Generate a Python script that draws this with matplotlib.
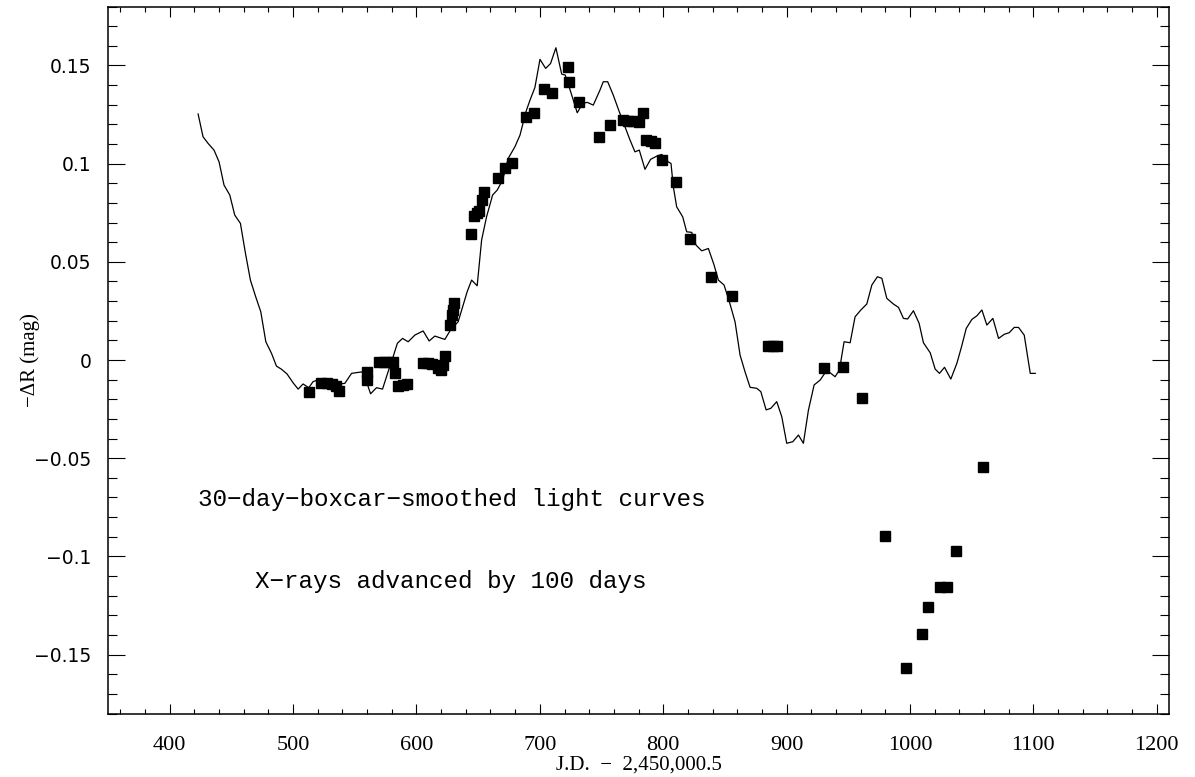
import matplotlib
matplotlib.use("Agg")
import matplotlib.pyplot as plt
from matplotlib.ticker import MultipleLocator, FuncFormatter

# optical light curve, 30-day boxcar smoothed
jd_opt = [423.0, 427.0, 431.1, 435.9, 440.0, 444.0, 448.7, 452.7, 457.3, 461.4,
          465.4, 469.7, 473.8, 477.9, 482.5, 486.5, 490.6, 495.1, 500.0, 504.1,
          508.1, 512.7, 516.2, 521.7, 527.3, 532.2, 537.1, 541.9, 547.4, 552.7,
          556.8, 562.8, 567.6, 572.5, 577.9, 581.1, 584.5, 588.7, 593.3, 598.7,
          605.4, 610.3, 614.9, 623.0, 627.6, 633.8, 637.4, 641.1, 644.7, 649.2,
          652.8, 656.8, 661.7, 665.4, 669.8, 674.4, 679.8, 683.9, 688.7, 692.0,
          696.0, 700.1, 704.7, 708.7, 713.0, 717.7, 720.6, 725.0, 730.3, 734.7,
          738.4, 743.3, 748.7, 751.4, 755.0, 759.5, 764.4, 769.0, 773.1, 777.1,
          780.6, 785.2, 789.8, 794.7, 798.8, 804.1, 806.3, 808.2, 810.9, 815.8,
          819.0, 823.1, 826.6, 831.2, 836.6, 841.2, 844.7, 849.3, 853.6, 858.2,
          862.3, 866.3, 870.4, 875.8, 879.1, 883.4, 887.2, 892.0, 896.1, 900.1,
          905.0, 909.6, 913.6, 917.7, 922.3, 927.2, 931.2, 935.3, 939.3, 942.8,
          946.6, 951.5, 955.5, 960.2, 965.0, 969.1, 973.6, 977.2, 981.2, 986.6,
          990.7, 994.7, 998.1, 1002.8, 1007.4, 1010.9, 1016.4, 1020.4, 1023.9, 1028.0,
          1033.1, 1038.0, 1041.8, 1045.6, 1050.2, 1054.2, 1058.3, 1062.3, 1067.2, 1071.8,
          1076.4, 1080.4, 1084.5, 1088.0, 1092.6, 1097.5, 1101.5]
dr_opt = [0.1253, 0.1137, 0.1103, 0.1069, 0.1009, 0.0891, 0.0840, 0.0738, 0.0696, 0.0543,
          0.0407, 0.0322, 0.0246, 0.0093, 0.0034, -0.0031, -0.0047, -0.0071, -0.0116, -0.0148,
          -0.0122, -0.0141, -0.0110, -0.0098, -0.0100, -0.0117, -0.0122, -0.0119, -0.0068, -0.0063,
          -0.0060, -0.0172, -0.0141, -0.0148, -0.0042, 0.0017, 0.0085, 0.0110, 0.0093, 0.0127,
          0.0148, 0.0097, 0.0122, 0.0105, 0.0153, 0.0195, 0.0271, 0.0348, 0.0407, 0.0378,
          0.0611, 0.0729, 0.0840, 0.0865, 0.0916, 0.1027, 0.1086, 0.1145, 0.1264, 0.1323,
          0.1388, 0.1531, 0.1485, 0.1510, 0.1590, 0.1456, 0.1451, 0.1366, 0.1259, 0.1307,
          0.1312, 0.1298, 0.1374, 0.1417, 0.1417, 0.1349, 0.1264, 0.1188, 0.1120, 0.1060,
          0.1069, 0.0971, 0.1022, 0.1038, 0.1047, 0.1009, 0.1001, 0.0882, 0.0780, 0.0729,
          0.0653, 0.0650, 0.0585, 0.0556, 0.0568, 0.0484, 0.0407, 0.0382, 0.0297, 0.0195,
          0.0025, -0.0060, -0.0139, -0.0144, -0.0161, -0.0254, -0.0246, -0.0212, -0.0289, -0.0424,
          -0.0416, -0.0382, -0.0424, -0.0255, -0.0127, -0.0102, -0.0065, -0.0065, -0.0085, -0.0051,
          0.0093, 0.0088, 0.0220, 0.0255, 0.0285, 0.0382, 0.0424, 0.0416, 0.0314, 0.0285,
          0.0268, 0.0212, 0.0209, 0.0251, 0.0187, 0.0088, 0.0037, -0.0046, -0.0068, -0.0037,
          -0.0097, -0.0017, 0.0068, 0.0161, 0.0207, 0.0225, 0.0255, 0.0178, 0.0212, 0.0110,
          0.0131, 0.0139, 0.0166, 0.0166, 0.0127, -0.0068, -0.0068]

# x-ray curve, advanced by 100 days
jd_x = [513.0, 523.0, 527.3, 531.4, 534.6, 537.3, 559.5, 560.3, 569.5, 573.6,
        577.6, 581.1, 582.5, 584.9, 589.0, 592.2, 605.4, 609.2, 612.5, 617.6,
        619.8, 621.6, 623.0, 627.1, 628.5, 629.5, 630.3, 643.9, 646.5, 649.0,
        650.8, 652.8, 654.9, 666.3, 671.7, 677.1, 688.7, 695.4, 703.6, 709.6,
        723.0, 723.8, 731.9, 747.9, 756.8, 767.1, 771.4, 775.5, 780.6, 783.4,
        786.0, 790.1, 793.3, 799.3, 810.1, 821.7, 838.5, 856.0, 885.2, 889.0,
        892.5, 930.6, 945.6, 961.5, 979.9, 996.6, 1010.1, 1015.0, 1024.5, 1029.9,
        1037.2, 1059.1]
dr_x = [-0.0161, -0.0119, -0.0117, -0.0122, -0.0132, -0.0156, -0.0102, -0.0061, -0.0010, -0.0010,
        -0.0010, -0.0010, -0.0068, -0.0132, -0.0127, -0.0122, -0.0014, -0.0015, -0.0020, -0.0042,
        -0.0051, -0.0025, 0.0020, 0.0178, 0.0229, 0.0255, 0.0289, 0.0640, 0.0733, 0.0748,
        0.0760, 0.0814, 0.0855, 0.0928, 0.0976, 0.1004, 0.1235, 0.1256, 0.1378, 0.1361,
        0.1490, 0.1417, 0.1315, 0.1137, 0.1198, 0.1222, 0.1219, 0.1217, 0.1213, 0.1259,
        0.1120, 0.1115, 0.1106, 0.1018, 0.0904, 0.0616, 0.0421, 0.0326, 0.0073, 0.0073,
        0.0073, -0.0042, -0.0034, -0.0195, -0.0896, -0.1569, -0.1395, -0.1256, -0.1154, -0.1154,
        -0.0971, -0.0543]

fig = plt.figure(figsize=(11.95, 7.77), dpi=100)
ax = fig.add_axes([0.0904, 0.0817, 0.8879, 0.9099])

ax.plot(jd_opt, dr_opt, color="k", lw=0.9)
ax.plot(jd_x, dr_x, "ks", ms=7.5)

ax.set_xlim(350, 1210)
ax.set_ylim(-0.18, 0.18)

ax.xaxis.set_major_locator(MultipleLocator(100))
ax.xaxis.set_minor_locator(MultipleLocator(20))
ax.yaxis.set_major_locator(MultipleLocator(0.05))
ax.yaxis.set_minor_locator(MultipleLocator(0.01))


def yfmt(v, pos):
    v = round(v, 3)
    if v == 0:
        return "0"
    return ("%g" % v).replace("-", "\u2212")


ax.yaxis.set_major_formatter(FuncFormatter(yfmt))

for s in ax.spines.values():
    s.set_linewidth(1.1)

ax.tick_params(which="both", direction="in", top=True, right=True, width=0.8)
ax.tick_params(axis="x", which="major", length=7.2, pad=16, labelsize=16,
               labelfontfamily="Liberation Serif")
ax.tick_params(axis="x", which="minor", length=3.6)
ax.tick_params(axis="y", which="major", length=12.2, pad=12, labelsize=13.5,
               labelfontfamily="DejaVu Sans")
ax.tick_params(axis="y", which="minor", length=6.5)

ax.set_xlabel("J.D.  \u2212  2,450,000.5", fontsize=15, family="Liberation Serif")
ax.set_ylabel("\u2212\u0394R (mag)", fontsize=15, family="Liberation Serif")
ax.xaxis.set_label_coords(0.5, -0.060)
ax.yaxis.set_label_coords(-0.064, 0.5)

mono = ["Liberation Mono", "DejaVu Sans Mono"]
ax.text(422.7, -0.071, "30\u2212day\u2212boxcar\u2212smoothed light curves",
        fontsize=17.5, family=mono, va="center", ha="left")
ax.text(468.9, -0.113, "X\u2212rays advanced by 100 days",
        fontsize=17.5, family=mono, va="center", ha="left")

fig.savefig("out.png", dpi=100)
